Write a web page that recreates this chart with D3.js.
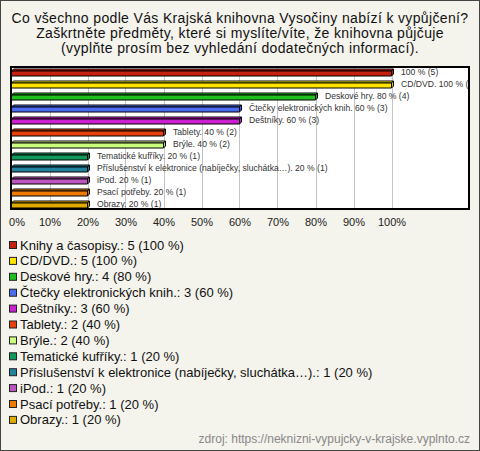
<!DOCTYPE html>
<html><head><meta charset="utf-8">
<script src="https://cdn.jsdelivr.net/npm/d3@7/dist/d3.min.js"></script>
<style>body{margin:0;background:#f4f3ec}svg{display:block}</style>
</head><body>
<svg id="c" width="480" height="451"></svg>
<script>
const categories = ["Knihy a časopisy","CD/DVD","Deskové hry","Čtečky elektronických knih","Deštníky","Tablety","Brýle","Tematické kufříky","Příslušenství k elektronice (nabíječky, sluchátka…)","iPod","Psací potřeby","Obrazy"];
const counts = [5,5,4,3,3,2,2,1,1,1,1,1];
const percents = [100,100,80,60,60,40,40,20,20,20,20,20];
const barLabels = ["100 % (5)","CD/DVD. 100 % (5)","Deskové hry. 80 % (4)","Čtečky elektronických knih. 60 % (3)","Deštníky. 60 % (3)","Tablety. 40 % (2)","Brýle. 40 % (2)","Tematické kufříky. 20 % (1)","Příslušenství k elektronice (nabíječky, sluchátka…). 20 % (1)","iPod. 20 % (1)","Psací potřeby. 20 % (1)","Obrazy. 20 % (1)"];
const colors = ["#c8200e","#ffe400","#1fbf1f","#4a6cf0","#cc1fd0","#e8400a","#ccff80","#129a5a","#23829c","#bb55c0","#ee7a00","#e0ac00"];
const tickValues = [0,10,20,30,40,50,60,70,80,90,100];
const title = ["Co všechno podle Vás Krajská knihovna Vysočiny nabízí k vypůjčení?","Zaškrtněte předměty, které si myslíte/víte, že knihovna půjčuje","(vyplňte prosím bez vyhledání dodatečných informací)."];
const source = "zdroj: https://neknizni-vypujcky-v-krajske.vyplnto.cz";

const svg = d3.select("#c");
const W=480,H=451;
svg.append("rect").attr("x",0.5).attr("y",0.5).attr("width",W-1).attr("height",H-1).attr("fill","#f4f3ec").attr("stroke","#444");

// title
svg.append("g").selectAll("text").data(title).join("text")
  .attr("x",240).attr("y",(d,i)=>23+15*i).attr("text-anchor","middle")
  .attr("font-family","Liberation Sans, Arial, sans-serif").attr("font-size",14).attr("letter-spacing",0.35).attr("fill","#111").text(d=>d);

const plot={l:10,t:66,r:470,b:210};
const x=d3.scaleLinear().domain([0,100]).range([11.5,391.5]);
const y=d3.scaleBand().domain(categories).range([plot.t,plot.b]);

svg.append("rect").attr("x",plot.l+1).attr("y",plot.t+1).attr("width",plot.r-plot.l-2).attr("height",plot.b-plot.t-2)
  .attr("fill","#fff");
// grid
svg.append("g").selectAll("line").data(tickValues.filter(v=>v>0)).join("line")
  .attr("x1",d=>Math.round(x(d))+0.5).attr("x2",d=>Math.round(x(d))+0.5).attr("y1",plot.t).attr("y2",plot.b)
  .attr("stroke","#c4c4c4").attr("stroke-width",1);

const d=2;
const bars=svg.append("g");
categories.forEach((c,i)=>{
  const cy=y(c)+y.bandwidth()/2;
  const x0=x(0), x1=x(percents[i]);
  const top=cy-1, h=5;
  const g=bars.append("g").attr("stroke","#000").attr("stroke-width",1).attr("stroke-linejoin","round");
  g.append("polygon").attr("points",[[x0,top],[x0+d,top-d],[x1+d,top-d],[x1,top]].join(" ")).attr("fill",d3.color(colors[i]).brighter(0.3));
  g.append("polygon").attr("points",[[x1,top],[x1+d,top-d],[x1+d,top+h-d],[x1,top+h]].join(" ")).attr("fill",d3.color(colors[i]).darker(0.3));
  g.append("rect").attr("x",x0).attr("y",top).attr("width",x1-x0).attr("height",h).attr("fill",colors[i]);
});
svg.append("clipPath").attr("id","pc").append("rect").attr("x",plot.l).attr("y",plot.t).attr("width",plot.r-plot.l-1).attr("height",plot.b-plot.t);
svg.append("g").attr("clip-path","url(#pc)").selectAll("text").data(categories).join("text")
  .attr("x",(c,i)=>x(percents[i])+9.5).attr("y",c=>y(c)+y.bandwidth()/2+2.5)
  .attr("font-family","Liberation Sans, Arial, sans-serif").attr("font-size",8.6).attr("fill","#333")
  .text((c,i)=>barLabels[i]);
svg.append("rect").attr("x",plot.l+1).attr("y",plot.t+1).attr("width",plot.r-plot.l-2).attr("height",plot.b-plot.t-2)
  .attr("fill","none").attr("stroke","#000").attr("stroke-width",2);

// axis
const axis=svg.append("g").attr("transform",`translate(0,${plot.b})`).call(d3.axisBottom(x).tickValues(tickValues).tickFormat(v=>v+"%").tickSize(0).tickPadding(8));
axis.select(".domain").remove();
axis.selectAll("text").attr("font-family","Liberation Sans, Arial, sans-serif").attr("font-size",11).attr("fill","#222")
  .attr("dx",(v)=>v===0?5:0);

// legend
const lg=svg.append("g").selectAll("g").data(categories).join("g")
  .attr("transform",(c,i)=>`translate(0,${245+15.9*i})`);
lg.append("rect").attr("x",9.5).attr("y",-3.5).attr("width",7).attr("height",7).attr("fill",(c,i)=>colors[i]).attr("stroke","#222");
lg.append("text").attr("x",20).attr("y",4.5).attr("font-family","Liberation Sans, Arial, sans-serif").attr("font-size",13).attr("fill","#111")
  .text((c,i)=>`${c}.: ${counts[i]} (${percents[i]} %)`);

svg.append("text").attr("x",470).attr("y",443).attr("text-anchor","end").attr("font-family","Liberation Sans, Arial, sans-serif")
  .attr("font-size",12).attr("fill","#888").text(source);
</script>
</body></html>
